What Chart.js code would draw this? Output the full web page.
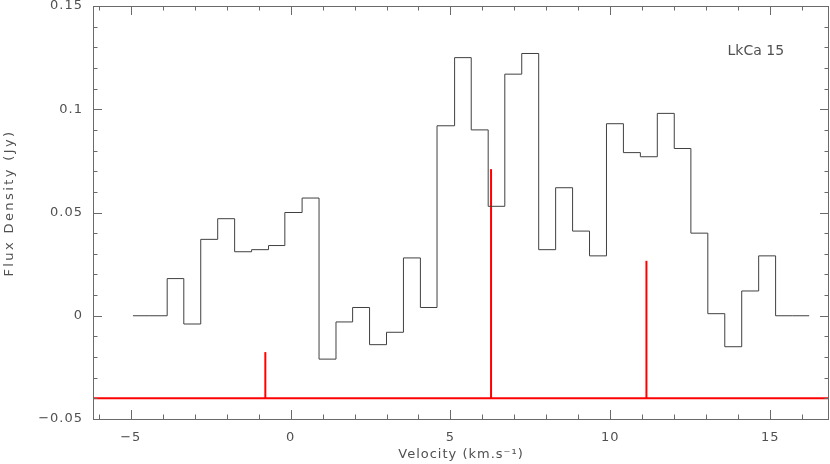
<!DOCTYPE html>
<html>
<head>
<meta charset="utf-8">
<script src="https://cdn.jsdelivr.net/npm/chart.js@4"></script>
<style>
  body { margin: 0; background: #fff; }
  canvas { display: block; }
</style>
</head>
<body>
<canvas id="myChart" width="830" height="464"></canvas>
<script>
// channel edges (km/s) and flux per channel (Jy)
var channelEdges = [-4.93, -4.40, -3.86, -3.34, -2.81, -2.28, -1.75, -1.22, -0.69, -0.18,
  0.36, 0.89, 1.42, 1.94, 2.47, 3.00, 3.53, 4.06, 4.58, 5.13,
  5.65, 6.18, 6.70, 7.23, 7.76, 8.29, 8.82, 9.35, 9.88, 10.41,
  10.94, 11.47, 12.00, 12.52, 13.05, 13.58, 14.11, 14.64, 15.17, 15.69, 16.22];
var fluxValues = [0, 0, 0.018, -0.004, 0.037, 0.047, 0.031, 0.032, 0.034, 0.050,
  0.057, -0.021, -0.003, 0.004, -0.014, -0.008, 0.028, 0.004, 0.092, 0.125,
  0.090, 0.053, 0.117, 0.127, 0.032, 0.062, 0.041, 0.029, 0.093, 0.079,
  0.077, 0.098, 0.081, 0.040, 0.001, -0.015, 0.012, 0.029, 0, 0];

// red hyperfine components
var compBase = -0.04;
var compVelocities = [-0.79, 6.27, 11.13];
var compTops = [-0.0176, 0.071, 0.0266];

var xMin = -6.18, xMax = 16.84;
var yMin = -0.05, yMax = 0.15;
var xTickLabels = [-5, 0, 5, 10, 15];
var yTickLabels = [-0.05, 0, 0.05, 0.1, 0.15];
var sourceName = "LkCa 15";
var xTitle = "Velocity (km.s\u207B\u00B9)";
var yTitle = "Flux Density (Jy)";

var histPoints = [];
for (var i = 0; i < channelEdges.length; i++) {
  histPoints.push({ x: channelEdges[i], y: fluxValues[Math.min(i, fluxValues.length - 1)] });
}

var datasets = [{
  label: "spectrum",
  data: histPoints,
  stepped: "before",
  borderColor: "#404040",
  borderWidth: 1,
  pointRadius: 0,
  fill: false
}, {
  label: "base",
  data: [{ x: xMin, y: compBase }, { x: xMax, y: compBase }],
  borderColor: "#ff0000",
  borderWidth: 2,
  pointRadius: 0
}];
compVelocities.forEach(function(v, k) {
  datasets.push({
    label: "comp" + k,
    data: [{ x: v, y: compBase }, { x: v, y: compTops[k] }],
    borderColor: "#ff0000",
    borderWidth: 2,
    pointRadius: 0
  });
});

function fmt(v) {
  var s = String(parseFloat(v.toFixed(2)));
  return s.replace("-", "\u2212");
}

var FONT = "'DejaVu Sans', Arial, sans-serif";

// box frame with inward ticks on all sides, plus the text
var frameTicks = {
  id: "frameTicks",
  afterDatasetsDraw: function(chart) {
    var ctx = chart.ctx, a = chart.chartArea;
    var xs = chart.scales.x, ys = chart.scales.y;
    ctx.save();
    ctx.strokeStyle = "#6a6a6a";
    ctx.lineWidth = 1;
    ctx.strokeRect(Math.round(a.left) + 0.5, Math.round(a.top) + 0.5,
      Math.round(a.right - a.left) - 1, Math.round(a.bottom - a.top));
    ctx.beginPath();
    for (var v = -6; v <= 16; v++) {
      var px = Math.round(xs.getPixelForValue(v)) + 0.5;
      var len = (v % 5 === 0) ? 9 : 4.5;
      ctx.moveTo(px, a.bottom); ctx.lineTo(px, a.bottom - len);
      ctx.moveTo(px, a.top); ctx.lineTo(px, a.top + len);
    }
    for (var j = -5; j <= 15; j++) {
      var py = Math.round(ys.getPixelForValue(j / 100)) + 0.5;
      var l2 = (j % 5 === 0) ? 9 : 4.5;
      ctx.moveTo(a.left, py); ctx.lineTo(a.left + l2, py);
      ctx.moveTo(a.right, py); ctx.lineTo(a.right - l2, py);
    }
    ctx.stroke();

    ctx.fillStyle = "#505050";
    ctx.font = "13px " + FONT;
    ctx.letterSpacing = "1px";
    ctx.textBaseline = "middle";
    ctx.textAlign = "center";
    xTickLabels.forEach(function(t) {
      ctx.fillText(fmt(t), xs.getPixelForValue(t), 438);
    });
    ctx.textAlign = "right";
    yTickLabels.forEach(function(t) {
      ctx.fillText(fmt(t), a.left - 10, ys.getPixelForValue(t));
    });
    ctx.textAlign = "center";
    ctx.fillText(xTitle, (a.left + a.right) / 2, 455);
    ctx.save();
    ctx.translate(10, 203);
    ctx.rotate(-Math.PI / 2);
    ctx.letterSpacing = "2.4px";
    ctx.fillText(yTitle, 0, 0);
    ctx.restore();
    ctx.letterSpacing = "0px";
    ctx.font = "14px " + FONT;
    ctx.fillText(sourceName, xs.getPixelForValue(14.55), ys.getPixelForValue(0.128));
    ctx.restore();
  }
};

var ctx = document.getElementById("myChart").getContext("2d");
var myChart = new Chart(ctx, {
  type: "line",
  data: { datasets: datasets },
  options: {
    responsive: false,
    animation: false,
    layout: { padding: { top: 6, right: 1, left: 0, bottom: 0 } },
    plugins: { legend: { display: false }, tooltip: { enabled: false } },
    scales: {
      x: {
        type: "linear",
        min: xMin,
        max: xMax,
        grid: { display: false, drawTicks: false },
        border: { display: false },
        ticks: { display: false },
        afterFit: function(scale) { scale.height = 45; }
      },
      y: {
        type: "linear",
        min: yMin,
        max: yMax,
        grid: { display: false, drawTicks: false },
        border: { display: false },
        ticks: { display: false },
        afterFit: function(scale) { scale.width = 93; }
      }
    }
  },
  plugins: [frameTicks]
});
</script>
</body>
</html>
